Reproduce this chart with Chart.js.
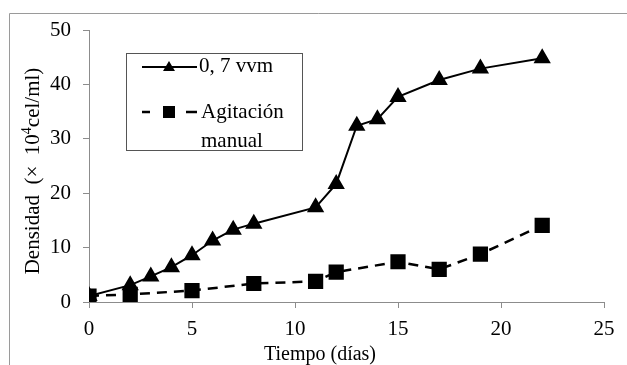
<!DOCTYPE html>
<html>
<head>
<meta charset="utf-8">
<script src="https://cdn.jsdelivr.net/npm/chart.js@4.4.1/dist/chart.umd.min.js"></script>
<style>
    html, body { margin: 0; padding: 0; background: #fff; }
    #wrap { width: 627px; height: 365px; }
</style>
</head>
<body>
<div id="wrap"><canvas id="chart" width="627" height="365"></canvas></div>
<script>
// --- Data ---
const diasAire   = [0, 2, 3, 4, 5, 6, 7, 8, 11, 12, 13, 14, 15, 17, 19, 22];
const densAire   = [1.1, 3.1, 4.7, 6.4, 8.6, 11.3, 13.3, 14.4, 17.4, 21.7, 32.4, 33.6, 37.7, 40.8, 42.9, 44.8];
const diasManual = [0, 2, 5, 8, 11, 12, 15, 17, 19, 22];
const densManual = [1.1, 1.4, 2.1, 3.4, 3.8, 5.5, 7.4, 6.0, 8.8, 14.1];

const xTicks = [0, 5, 10, 15, 20, 25];
const yTicks = [0, 10, 20, 30, 40, 50];

const labelAire   = "0, 7 vvm";
const labelManual = ["Agitación", "manual"];
const xTitle = "Tiempo (días)";

const FONT = "'Liberation Serif', 'Times New Roman', serif";
const AXIS_GRAY = "#8c8c8c";

const toPoints = (xs, ys) => xs.map((x, i) => ({ x, y: ys[i] }));

// --- Frame, legend and axis titles ---
const decorations = {
    id: "decorations",
    afterDraw(chart) {
        const ctx = chart.ctx;
        ctx.save();

        // outer frame (top and left edges only visible)
        ctx.strokeStyle = "#9a9a9a";
        ctx.lineWidth = 1;
        ctx.beginPath();
        ctx.moveTo(9.5, 366);
        ctx.lineTo(9.5, 13.5);
        ctx.lineTo(627, 13.5);
        ctx.stroke();

        // legend box
        ctx.strokeStyle = "#555";
        ctx.strokeRect(126.5, 53.5, 176, 97);

        ctx.fillStyle = "#000";
        ctx.strokeStyle = "#000";

        // entry 1: solid line + triangle
        ctx.lineWidth = 2;
        ctx.beginPath();
        ctx.moveTo(142, 67);
        ctx.lineTo(197, 67);
        ctx.stroke();
        ctx.beginPath();
        ctx.moveTo(169, 61);
        ctx.lineTo(175, 71);
        ctx.lineTo(163, 71);
        ctx.closePath();
        ctx.fill();

        // entry 2: dashes + square
        ctx.lineWidth = 2.5;
        ctx.beginPath();
        ctx.moveTo(142, 112); ctx.lineTo(150, 112);
        ctx.moveTo(186, 112); ctx.lineTo(197, 112);
        ctx.stroke();
        ctx.fillRect(163, 106, 12, 12);

        ctx.font = "21px " + FONT;
        ctx.textBaseline = "middle";
        ctx.textAlign = "left";
        ctx.fillText(labelAire, 199, 66);
        ctx.fillText(labelManual[0], 201, 112);
        ctx.fillText(labelManual[1], 201, 141);

        // x title
        ctx.font = "20px " + FONT;
        ctx.textAlign = "center";
        ctx.textBaseline = "alphabetic";
        ctx.fillText(xTitle, 320, 360);

        // y title (rotated, with superscript 4)
        ctx.translate(39, 171);
        ctx.rotate(-Math.PI / 2);
        const partA = "Densidad  (\u00d7  10";
        const partB = "4";
        const partC = "cel/ml)";
        ctx.font = "21px " + FONT;
        const wA = ctx.measureText(partA).width;
        const wC = ctx.measureText(partC).width;
        ctx.font = "14px " + FONT;
        const wB = ctx.measureText(partB).width;
        const total = wA + wB + wC;
        let x = -total / 2;
        ctx.textAlign = "left";
        ctx.font = "21px " + FONT;
        ctx.fillText(partA, x, 0);
        x += wA;
        ctx.font = "14px " + FONT;
        ctx.fillText(partB, x, -8);
        x += wB;
        ctx.font = "21px " + FONT;
        ctx.fillText(partC, x, 0);

        ctx.restore();
    }
};

new Chart(document.getElementById("chart"), {
    type: "scatter",
    data: {
        datasets: [
            {
                label: labelAire,
                data: toPoints(diasAire, densAire),
                showLine: true,
                borderColor: "#000",
                backgroundColor: "#000",
                borderWidth: 2,
                pointStyle: "triangle",
                pointRadius: 8,
                pointHoverRadius: 8
            },
            {
                label: labelManual.join(" "),
                data: toPoints(diasManual, densManual),
                showLine: true,
                borderColor: "#000",
                backgroundColor: "#000",
                borderWidth: 2.5,
                borderDash: [10, 7],
                pointStyle: "rect",
                pointRadius: 9,
                pointHoverRadius: 9
            }
        ]
    },
    options: {
        responsive: false,
        animation: false,
        layout: { padding: { left: 0, right: 23, top: 30, bottom: 0 } },
        plugins: { legend: { display: false }, tooltip: { enabled: false } },
        scales: {
            x: {
                type: "linear",
                min: 0,
                max: 25,
                afterFit: s => { s.height = 63; },
                afterBuildTicks: s => { s.ticks = xTicks.map(v => ({ value: v })); },
                border: { color: AXIS_GRAY, width: 1 },
                grid: { drawOnChartArea: false, tickLength: 6, color: AXIS_GRAY },
                ticks: { color: "#000", padding: 9, font: { family: FONT, size: 21 } }
            },
            y: {
                min: 0,
                max: 50,
                afterFit: s => { s.width = 89; },
                afterBuildTicks: s => { s.ticks = yTicks.map(v => ({ value: v })); },
                border: { color: AXIS_GRAY, width: 1 },
                grid: { drawOnChartArea: false, tickLength: 6, color: AXIS_GRAY },
                ticks: { color: "#000", padding: 12, font: { family: FONT, size: 21 } }
            }
        }
    },
    plugins: [decorations]
});
</script>
</body>
</html>
